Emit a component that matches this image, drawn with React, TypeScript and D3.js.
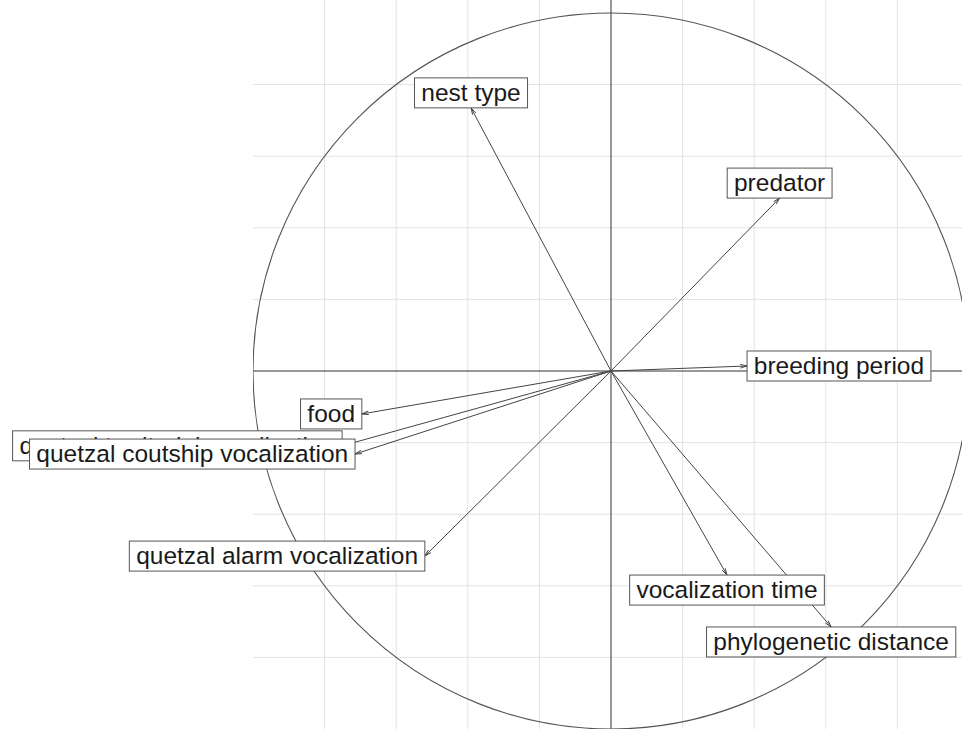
import { useEffect, useRef } from 'react';
import * as d3 from 'd3';

// variable labels and their coordinates on the correlation circle
const variables = [
  'nest type',
  'predator',
  'breeding period',
  'food',
  'quetzal territorial vocalization',
  'quetzal coutship vocalization',
  'quetzal alarm vocalization',
  'vocalization time',
  'phylogenetic distance',
];
const axis1 = [-0.391, 0.471, 0.38, -0.696, -0.751, -0.715, -0.52, 0.324, 0.615];
const axis2 = [0.735, 0.483, 0.014, -0.12, -0.209, -0.232, -0.517, -0.57, -0.715];
const gridTicks = [-0.8, -0.6, -0.4, -0.2, 0.2, 0.4, 0.6, 0.8];

const width = 962;
const height = 729;
const fontSize = 24.5;
const fontFamily = "'Liberation Sans', Arial, sans-serif";

export default function App() {
  const svgRef = useRef<SVGSVGElement>(null);

  useEffect(() => {
    if (!svgRef.current) return;
    const svg = d3.select(svgRef.current);
    svg.selectAll('*').remove();

    const cx = 611;
    const cy = 371;
    const R = 358;

    const x = d3.scaleLinear().domain([-1, 1]).range([cx - R, cx + R]);
    const y = d3.scaleLinear().domain([-1, 1]).range([cy + R, cy - R]);

    // clip lines to the plotting region (left border at -1)
    svg.append('defs').append('clipPath').attr('id', 'plot-clip')
      .append('rect')
      .attr('x', x(-1)).attr('y', 0)
      .attr('width', width - x(-1)).attr('height', height);

    const g = svg.append('g').attr('clip-path', 'url(#plot-clip)');

    // grid
    gridTicks.forEach(t => {
      g.append('line')
        .attr('x1', x(t)).attr('x2', x(t))
        .attr('y1', 0).attr('y2', height)
        .attr('stroke', '#e3e3e3').attr('stroke-width', 1);
      g.append('line')
        .attr('x1', x(-1)).attr('x2', width)
        .attr('y1', y(t)).attr('y2', y(t))
        .attr('stroke', '#e3e3e3').attr('stroke-width', 1);
    });

    // axes through the origin
    g.append('line')
      .attr('x1', x(-1)).attr('x2', width)
      .attr('y1', y(0)).attr('y2', y(0))
      .attr('stroke', '#333').attr('stroke-width', 1);
    g.append('line')
      .attr('x1', x(0)).attr('x2', x(0))
      .attr('y1', 0).attr('y2', height)
      .attr('stroke', '#333').attr('stroke-width', 1);

    // unit circle
    g.append('circle')
      .attr('cx', x(0)).attr('cy', y(0))
      .attr('r', x(1) - x(0))
      .attr('fill', 'none')
      .attr('stroke', '#555').attr('stroke-width', 1.1);

    // arrows
    const arrowG = svg.append('g');
    variables.forEach((_, i) => {
      const px = x(axis1[i]);
      const py = y(axis2[i]);
      arrowG.append('line')
        .attr('x1', x(0)).attr('y1', y(0))
        .attr('x2', px).attr('y2', py)
        .attr('stroke', '#444').attr('stroke-width', 1);
      const ang = Math.atan2(py - y(0), px - x(0));
      const len = 7;
      [-1, 1].forEach(s => {
        const a = ang + Math.PI + s * (15 * Math.PI / 180);
        arrowG.append('line')
          .attr('x1', px).attr('y1', py)
          .attr('x2', px + len * Math.cos(a))
          .attr('y2', py + len * Math.sin(a))
          .attr('stroke', '#444').attr('stroke-width', 1);
      });
    });

    // labels with boxes, placed outside the arrow tip
    const ctx = document.createElement('canvas').getContext('2d')!;
    ctx.font = `${fontSize}px ${fontFamily}`;
    const yh = 15;
    const labelG = svg.append('g');
    variables.forEach((name, i) => {
      const xr = axis1[i];
      const yr = axis2[i];
      const px = x(xr);
      const py = y(yr);
      const xh = ctx.measureText(` ${name} `).width;
      let lx = px;
      let ly = py;
      if (xr > yr && xr > -yr) lx = px + xh / 2;
      else if (xr > yr && xr <= -yr) ly = py + yh;
      else if (xr <= yr && xr <= -yr) lx = px - xh / 2;
      else ly = py - yh;

      labelG.append('rect')
        .attr('x', lx - xh / 2).attr('y', ly - yh)
        .attr('width', xh).attr('height', 2 * yh)
        .attr('fill', 'white')
        .attr('stroke', '#555').attr('stroke-width', 1);
      labelG.append('text')
        .attr('x', lx).attr('y', ly + fontSize * 0.34)
        .attr('text-anchor', 'middle')
        .style('font-family', fontFamily)
        .style('font-size', `${fontSize}px`)
        .attr('fill', '#1a1a1a')
        .text(name);
    });
  }, []);

  return (
    <svg
      ref={svgRef}
      width={width}
      height={height}
      style={{ position: 'absolute', left: 0, top: 0, background: 'white' }}
    />
  );
}
